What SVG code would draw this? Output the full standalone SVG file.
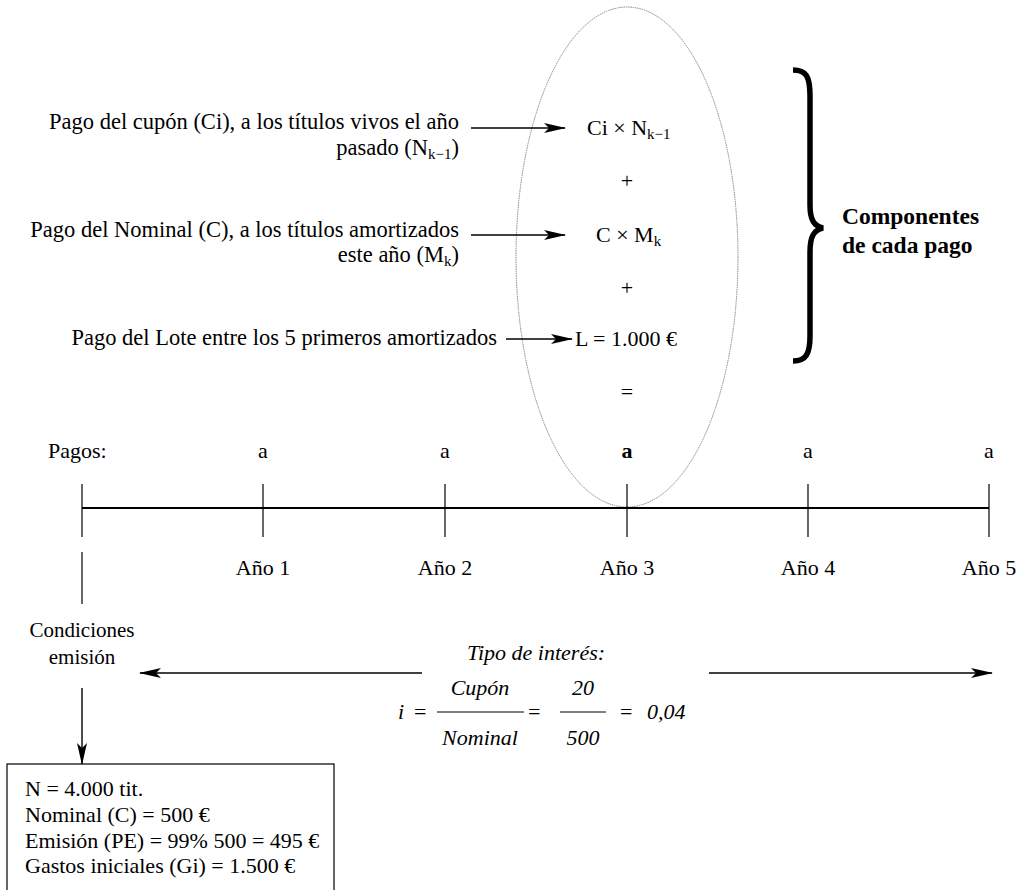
<svg xmlns="http://www.w3.org/2000/svg" width="1021" height="890" viewBox="0 0 1021 890">
<defs>
<style>
text{font-family:"Liberation Serif","Times New Roman",serif;font-size:22px;fill:#000}
.r{text-anchor:end}.m{text-anchor:middle}.b{font-weight:bold}.i{font-style:italic}
.ln{stroke:#000;stroke-width:1.2;fill:none}
.ar{stroke:#000;stroke-width:1.4;fill:none;marker-end:url(#ah)}
.sub{font-size:15px}
</style>
<marker id="ah" markerWidth="22" markerHeight="10" refX="21" refY="5" orient="auto" markerUnits="userSpaceOnUse">
<path d="M0,0 L22,5 L0,10 L5,5 z" fill="#000"/>
</marker>
</defs>
<rect width="1021" height="890" fill="#fff"/>
<g id="ellipse"><ellipse cx="627" cy="257" rx="111" ry="250" fill="none" stroke="#888" stroke-width="1" stroke-dasharray="1.5 0.8"/></g>
<g id="connectors">
<line class="ar" x1="471" y1="128" x2="565" y2="128"/>
<line class="ar" x1="471" y1="235" x2="565" y2="235"/>
<line class="ar" x1="506" y1="339" x2="572" y2="339"/>
<line class="ar" x1="82" y1="688" x2="82" y2="764"/>
<line class="ar" x1="422" y1="673" x2="140" y2="673"/>
<line class="ar" x1="709" y1="673" x2="992" y2="673"/>
<line class="ln" x1="82" y1="552" x2="82" y2="604"/>
</g>
<g id="labels-left">
<text class="r" x="459" y="129" style="font-size:22.5px">Pago del cupón (Ci), a los títulos vivos el año</text>
<text class="r" x="459" y="155" style="font-size:22.5px">pasado (N<tspan class="sub" dy="4">k−1</tspan><tspan dy="-4">)</tspan></text>
<text class="r" x="459" y="237" style="font-size:22.5px">Pago del Nominal (C), a los títulos amortizados</text>
<text class="r" x="459" y="262" style="font-size:22.5px">este año (M<tspan class="sub" dy="4">k</tspan><tspan dy="-4">)</tspan></text>
<text class="r" x="497" y="345" style="font-size:22.5px">Pago del Lote entre los 5 primeros amortizados</text>
</g>
<g id="components">
<text x="587" y="135">Ci × N<tspan class="sub" dy="4">k−1</tspan></text>
<text class="m" x="627" y="188">+</text>
<text x="596" y="242">C × M<tspan class="sub" dy="4">k</tspan></text>
<text class="m" x="627" y="295">+</text>
<text x="575" y="346">L = 1.000 €</text>
<text class="m" x="627" y="399">=</text>
</g>
<g id="brace">
<path d="M793,70 C806,70 810,76 810,96 L810,205 C810,220 814,226 823,228 C814,230 810,236 810,252 L810,336 C810,354 806,361 793,361" fill="none" stroke="#000" stroke-width="5.5"/>
<text class="b" x="842" y="224" style="font-size:23.5px">Componentes</text>
<text class="b" x="842" y="253" style="font-size:23.5px">de cada pago</text>
</g>
<g id="timeline">
<text x="48" y="458">Pagos:</text>
<text class="m" x="263" y="458">a</text>
<text class="m" x="445" y="458">a</text>
<text class="m b" x="627" y="458">a</text>
<text class="m" x="808" y="458">a</text>
<text class="m" x="989" y="458">a</text>
<line x1="82" y1="508" x2="989" y2="508" stroke="#000" stroke-width="1.8"/>
<g class="ln">
<line x1="82" y1="484" x2="82" y2="537"/>
<line x1="263" y1="484" x2="263" y2="537"/>
<line x1="445" y1="484" x2="445" y2="537"/>
<line x1="627" y1="484" x2="627" y2="537"/>
<line x1="808" y1="484" x2="808" y2="537"/>
<line x1="989" y1="484" x2="989" y2="537"/>
</g>
<text class="m" x="263" y="575">Año 1</text>
<text class="m" x="445" y="575">Año 2</text>
<text class="m" x="627" y="575">Año 3</text>
<text class="m" x="808" y="575">Año 4</text>
<text class="m" x="989" y="575">Año 5</text>
</g>
<g id="condiciones">
<text class="m" x="82" y="637" style="font-size:21px">Condiciones</text>
<text class="m" x="82" y="664" style="font-size:21px">emisión</text>
</g>
<g id="interes">
<text class="m i" x="536" y="660">Tipo de interés:</text>
<text class="i" x="398" y="719">i</text>
<text x="414" y="719">=</text>
<text class="m i" x="480" y="695">Cupón</text>
<line x1="437" y1="712" x2="524" y2="712" stroke="#000" stroke-width="1"/>
<text class="m i" x="480" y="745">Nominal</text>
<text x="528" y="719">=</text>
<text class="m i" x="583" y="695">20</text>
<line x1="560" y1="712" x2="606" y2="712" stroke="#000" stroke-width="1"/>
<text class="m i" x="583" y="745">500</text>
<text x="620" y="719">=</text>
<text class="i" x="647" y="719">0,04</text>
</g>
<g id="box">
<rect x="7" y="764" width="327" height="140" fill="none" stroke="#000" stroke-width="1.2"/>
<text x="25" y="796">N = 4.000 tit.</text>
<text x="25" y="822">Nominal (C) = 500 €</text>
<text x="25" y="848">Emisión (PE) = 99% 500 = 495 €</text>
<text x="25" y="873">Gastos iniciales (Gi) = 1.500 €</text>
</g>
</svg>
